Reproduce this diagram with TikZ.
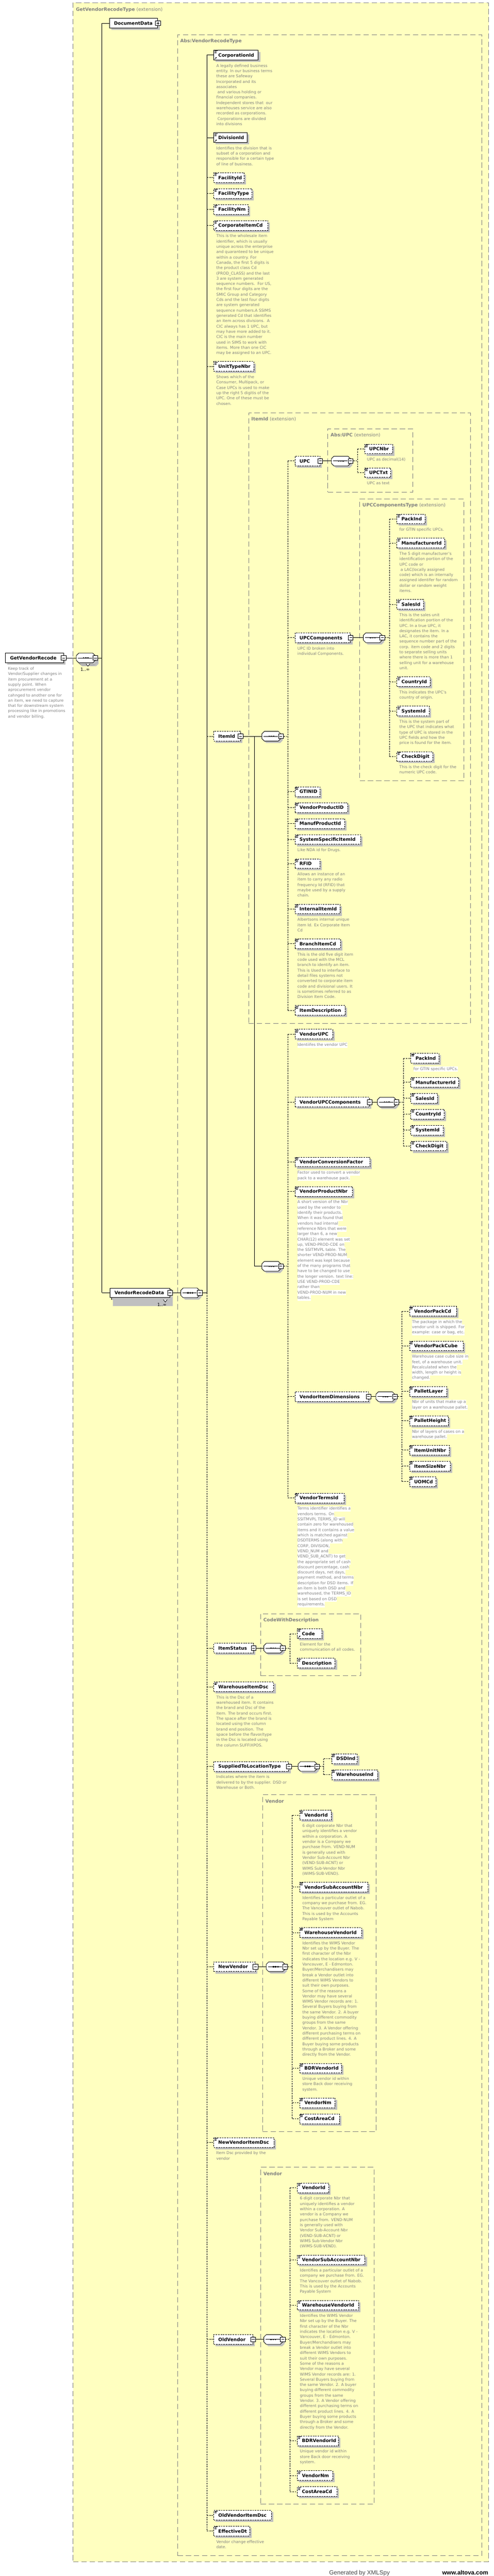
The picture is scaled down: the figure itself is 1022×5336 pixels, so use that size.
\documentclass[tikz,border=0pt]{standalone}
\usepackage{fontspec}
\setmainfont{DejaVu Sans}
\newfontfamily\ftrfont{Liberation Sans}
\usetikzlibrary{shadows,arrows.meta}
\definecolor{bgY}{RGB}{255,255,192}
\definecolor{tbx}{RGB}{128,128,128}
\definecolor{dsc}{RGB}{128,128,128}
\definecolor{shc}{RGB}{192,192,192}
\definecolor{ftrc}{RGB}{70,70,70}
\pgfdeclarelayer{bg}\pgfdeclarelayer{ln}\pgfsetlayers{bg,ln,main}
\newcommand\elfont{\fontsize{9.5}{11}\selectfont\bfseries}
\newcommand\dscfont{\fontsize{8.1}{11}\selectfont}
\newcommand\wl[1]{{\setlength{\fboxsep}{0pt}\colorbox{white}{\strut#1}}}
\tikzset{
  ln/.style={line width=0.9pt},
  opt/.style={dash pattern=on 3pt off 2pt},
  elem/.style={draw, fill=white, line width=0.9pt, inner sep=0pt, minimum height=20pt,
    text height=6.9pt, text depth=0pt, anchor=west, font=\elfont, text=black,
    drop shadow={shadow xshift=4pt, shadow yshift=-4pt, fill=shc, opacity=1}},
  tbox/.style={draw=tbx, fill=bgY, line width=0.8pt, dash pattern=on 11pt off 6pt, anchor=north west, inner sep=0pt},
  ttl/.style={anchor=base west, inner sep=0pt, font=\fontsize{9.6}{11}\selectfont, text=tbx},
  desc/.style={anchor=north west, inner sep=0pt, align=left, font=\dscfont, text=dsc},
  cmp/.style={anchor=west, minimum width=39pt, minimum height=20pt, inner sep=0pt, draw=none},
  signm/.style={draw, fill=white, line width=0.9pt, minimum size=10pt, inner sep=0pt,
    path picture={\draw[line width=0.9pt] ([xshift=2.2pt]path picture bounding box.west) -- ([xshift=-2.2pt]path picture bounding box.east);}},
  signp/.style={draw, fill=white, line width=0.9pt, minimum size=10pt, inner sep=0pt,
    path picture={\draw[line width=0.9pt] ([xshift=2.2pt]path picture bounding box.west) -- ([xshift=-2.2pt]path picture bounding box.east) ([yshift=-2.2pt]path picture bounding box.north) -- ([yshift=2.2pt]path picture bounding box.south);}},
  mult/.style={font=\fontsize{9}{10}\selectfont, inner sep=0pt, text=black},
}
% element: [style]{name}{x1}{x2}{y}{label}
\newcommand\El[6][]{\node[elem,#1,minimum width={#4-#3}] (#2) at (#3,#5) {\makebox[\dimexpr#4pt-#3pt\relax][l]{\hspace*{9.5pt}#6}};}
\newcommand\Sg[1]{\node[signm] (#1-s) at (#1.east) {};}
\newcommand\Sp[1]{\node[signp] (#1-s) at (#1.east) {};}
\newcommand\icL[1]{\draw[line width=0.8pt] ([xshift=1.5pt,yshift=-1.8pt]#1.north west) -- ++(6.5,0) ([xshift=1.5pt,yshift=-3.9pt]#1.north west) -- ++(5,0) ([xshift=1.5pt,yshift=-6pt]#1.north west) -- ++(5,0);}
\newcommand\icA[1]{\draw[line width=0.8pt,-{Stealth[length=2.6pt,width=3pt]}] ([xshift=2pt,yshift=1.6pt]#1.south west) -- ++(4.6,-4.6);}
\newcommand\Ds[3]{\node[desc] (#1) at ([xshift=5.5pt,yshift=-6.5pt]#2.south west) {\strut#3};}
\newcommand\oct[3]{\path[#3] ({#1},{#2-5}) -- ({#1+5},{#2-10}) -- ({#1+34},{#2-10}) -- ({#1+39},{#2-5}) -- ({#1+39},{#2+5}) -- ({#1+34},{#2+10}) -- ({#1+5},{#2+10}) -- ({#1},{#2+5}) -- cycle;}
\newcommand\Comp[3]{%
  \oct{#2+4}{#3+4}{fill=shc}
  \oct{#2}{#3}{draw,fill=white,line width=0.9pt}
  \node[cmp] (#1) at (#2,#3) {};
  \draw[line width=0.9pt] ({#2+3.5},#3) -- ({#2+33},#3);
  \foreach \dx in {15,19.5,24} {\fill ({#2+\dx-1.3},{#3-1.3}) rectangle ++(2.6,2.6);}
  \node[signm] (#1-s) at (#1.east) {};}
\newcommand\CompM[3]{%
  \oct{#2+7}{#3+7}{fill=shc}
  \oct{#2+3.5}{#3+3.5}{draw,fill=white,line width=0.9pt}
  \Comp{#1}{#2}{#3}}

\begin{document}
\begin{tikzpicture}[x=1pt,y=-1pt]
\useasboundingbox (0,0) rectangle (1022,5336);

%================ type boxes
\begin{pgfonlayer}{bg}
\node[tbox, minimum width=860pt, minimum height=5301pt] (B0) at (151,5) {};
\node[tbox, minimum width=630pt, minimum height=5222pt] (B1) at (367,71) {};
\node[tbox, minimum width=459pt, minimum height=1264pt] (B2) at (514,855) {};
\node[tbox, minimum width=176pt, minimum height=131pt] (B3) at (678,888) {};
\node[tbox, minimum width=215pt, minimum height=584pt] (B4) at (744,1033) {};
\node[tbox, minimum width=207pt, minimum height=129pt] (B5) at (539,3342) {};
\node[tbox, minimum width=235pt, minimum height=698pt] (B6) at (543,3717) {};
\node[tbox, minimum width=235pt, minimum height=698pt] (B7) at (539,4489) {};
\end{pgfonlayer}
\node[ttl] (T0) at (157,22.5) {\textbf{GetVendorRecodeType} (extension)};
\node[ttl] (T1) at (373,88.5) {\textbf{Abs:VendorRecodeType}};
\node[ttl] (T2) at (520,871.5) {\textbf{ItemId} (extension)};
\node[ttl] (T3) at (684,904.5) {\textbf{Abs:UPC} (extension)};
\node[ttl] (T4) at (750,1049.5) {\textbf{UPCComponentsType} (extension)};
\node[ttl] (T5) at (545,3358.5) {\textbf{CodeWithDescription}};
\node[ttl] (T6) at (549,3734.5) {\textbf{Vendor}};
\node[ttl] (T7) at (545,4506.5) {\textbf{Vendor}};

%================ root
\El{GetVendorRecode}{11}{131}{1363}{GetVendorRecode}\Sg{GetVendorRecode}
\Ds{dRoot}{GetVendorRecode}{Keep track of\\Vendor/Supplier changes in\\item procurement at a\\supply point. When\\aprocurement vendor\\cahnged to another one for\\an item, we need to capture\\that for downstream system\\processing like in promotions\\and vendor billing.}
\CompM{c0}{158}{1363}
\draw[line width=0.8pt,fill=white] (178,1375) -- (182,1380) -- (186,1375);
\node[mult] (m0) at (176,1387) {1..∞};
\El{DocumentData}{226}{326}{48}{DocumentData}\Sp{DocumentData}
\fill[shc] (234,2685) rectangle (358,2705);
\draw[line width=0.9pt,fill=white] (230.5,2671.5) rectangle (354.5,2691.5);
\El{VendorRecodeData}{227}{351}{2678}{VendorRecodeData}\Sg{VendorRecodeData}
\draw[line width=0.8pt,fill=white] (338,2692) -- (342,2697) -- (346,2692);
\node[mult] (m1) at (335,2703) {1..∞};
\Comp{c1}{374}{2678}

%================ VendorRecodeType children
\El{CorporationId}{442}{534}{114}{CorporationId}\icL{CorporationId}\icA{CorporationId}
\Ds{dCorp}{CorporationId}{A legally defined business\\entity. In our business terms\\these are Safeway\\Incorporated and its\\associates\\\hspace*{2.5pt}and various holding or\\financial companies.\\Independent stores that\ \ our\\warehouses service are also\\recorded as corporations.\\\hspace*{2.5pt}Corporations are divided\\into divisions}
\El{DivisionId}{442}{511}{285}{DivisionId}\icL{DivisionId}\icA{DivisionId}
\Ds{dDiv}{DivisionId}{Identifies the division that is\\subset of a corporation and\\responsible for a certain type\\of line of business.}
\El[opt]{FacilityId}{442}{505}{368}{FacilityId}\icL{FacilityId}
\El[opt]{FacilityType}{442}{521}{401}{FacilityType}\icL{FacilityType}
\El[opt]{FacilityNm}{442}{513}{434}{FacilityNm}\icL{FacilityNm}
\El[opt]{CorporateItemCd}{442}{554}{467}{CorporateItemCd}\icL{CorporateItemCd}\icA{CorporateItemCd}
\Ds{dCic}{CorporateItemCd}{This is the wholesale item\\identifier, which is usually\\unique across the enterprise\\and quaranteed to be unique\\within a country. For\\Canada, the first 5 digits is\\the product class Cd\\(PROD\_CLASS) and the last\\3 are system generated\\sequence numbers.\ \ For US,\\the first four digits are the\\SMIC Group and Category\\Cds and the last four digits\\are system generated\\sequence numbers.A SSIMS\\generated Cd that identifies\\an item across divisions.\ \ A\\CIC always has 1 UPC, but\\may have more added to it.\\CIC is the main number\\used in SIMS to work with\\items. More than one CIC\\may be assigned to an UPC.}
\El[opt]{UnitTypeNbr}{442}{525}{759}{UnitTypeNbr}\icL{UnitTypeNbr}
\Ds{dUnit}{UnitTypeNbr}{Shows which of the\\Consumer, Multipack, or\\Case UPCs is used to make\\up the right 5 digitis of the\\UPC. One of these must be\\chosen.}
\El[opt]{ItemId}{442}{497}{1525}{ItemId}\Sg{ItemId}
\Comp{c2}{542}{1525}
\Comp{c3}{542}{2623}

%================ ItemId base content
\El[opt]{UPC}{610}{662}{955}{UPC}\Sg{UPC}
\Comp{cu}{686}{955}
\El[opt]{UPCNbr}{754}{812}{930}{UPCNbr}\icL{UPCNbr}
\Ds{dUpcNbr}{UPCNbr}{UPC as decimal(14)}
\El[opt]{UPCTxt}{754}{808}{979}{UPCTxt}\icL{UPCTxt}
\Ds{dUpcTxt}{UPCTxt}{UPC as text}
\El[opt]{UPCComponents}{610}{725}{1321}{UPCComponents}\Sg{UPCComponents}
\Ds{dUpcc}{UPCComponents}{UPC ID broken into\\individual Components.}
\Comp{cuc}{752}{1321}
\El[opt]{PackInd}{821}{879}{1075}{PackInd}\icL{PackInd}
\Ds{dPack}{PackInd}{for GTIN specific UPCs.}
\El[opt]{ManufacturerId}{821}{920}{1125}{ManufacturerId}\icL{ManufacturerId}
\Ds{dManu}{ManufacturerId}{The 5 digit manufacturer's\\identification portion of the\\UPC code or\\\hspace*{2.5pt}a LAC(locally assigned\\code) which is an internally\\assigned identifer for random\\dollar or random weight\\items.}
\El[opt]{SalesId}{821}{876}{1252}{SalesId}\icL{SalesId}
\Ds{dSales}{SalesId}{This is the sales unit\\identification portion of the\\UPC. In a true UPC, it\\designates the item. In a\\LAC, it contains the\\sequence number part of the\\corp. item code and 2 digits\\to separate selling units\\where there is more than 1\\selling unit for a warehouse\\unit.}
\El[opt]{CountryId}{821}{890}{1412}{CountryId}\icL{CountryId}
\Ds{dCountry}{CountryId}{This indicates the UPC's\\country of origin.}
\El[opt]{SystemId}{821}{888}{1473}{SystemId}\icL{SystemId}
\Ds{dSystem}{SystemId}{This is the system part of\\the UPC that indicates what\\type of UPC is stored in the\\UPC fields and how the\\price is found for the item.}
\El[opt]{CheckDigit}{821}{895}{1567}{CheckDigit}\icL{CheckDigit}
\Ds{dCheck}{CheckDigit}{This is the check digit for the\\numeric UPC code.}
\El[opt]{GTINID}{610}{662}{1640}{GTINID}\icL{GTINID}
\El[opt]{VendorProductID}{610}{719}{1673}{VendorProductID}\icL{VendorProductID}
\El[opt]{ManufProductId}{610}{713}{1706}{ManufProductId}\icL{ManufProductId}
\El[opt]{SystemSpecificItemId}{610}{746}{1739}{SystemSpecificItemId}\icL{SystemSpecificItemId}
\Ds{dSsid}{SystemSpecificItemId}{Like NDA id for Drugs.}
\El[opt]{RFID}{610}{662}{1789}{RFID}\icL{RFID}
\Ds{dRfid}{RFID}{Allows an instance of an\\item to carry any radio\\frequency Id (RFID) that\\maybe used by a supply\\chain.}
\El[opt]{InternalItemId}{610}{703}{1883}{InternalItemId}\icL{InternalItemId}
\Ds{dIid}{InternalItemId}{Albertsons internal unique\\item Id. Ex Corporate Item\\Cd}
\El[opt]{BranchItemCd}{610}{704}{1955}{BranchItemCd}\icL{BranchItemCd}
\Ds{dBic}{BranchItemCd}{This is the old five digit item\\code used with the MCL\\branch to identify an item.\\This is Used to interface to\\detail files systems not\\converted to corporate item\\code and divisional users. It\\is sometimes referred to as\\Division Item Code.}
\El[opt]{ItemDescription}{610}{714}{2093}{ItemDescription}\icL{ItemDescription}

%================ ItemId extension content
\El[opt]{VendorUPC}{610}{688}{2142}{VendorUPC}\icL{VendorUPC}
\Ds{dVupc}{VendorUPC}{\wl{Identiifes the vendor UPC}}
\El[opt]{VendorUPCComponents}{610}{764}{2283}{VendorUPCComponents}\Sg{VendorUPCComponents}
\Comp{cvuc}{781}{2283}
\El[opt]{PackIndB}{850}{908}{2192}{PackInd}\icL{PackIndB}
\Ds{dPackB}{PackIndB}{\wl{for GTIN specific UPCs.}}
\El[opt]{ManufacturerIdB}{850}{949}{2242}{ManufacturerId}\icL{ManufacturerIdB}
\El[opt]{SalesIdB}{850}{905}{2275}{SalesId}\icL{SalesIdB}
\El[opt]{CountryIdB}{850}{919}{2308}{CountryId}\icL{CountryIdB}
\El[opt]{SystemIdB}{850}{917}{2341}{SystemId}\icL{SystemIdB}
\El[opt]{CheckDigitB}{850}{924}{2374}{CheckDigit}\icL{CheckDigitB}
\El[opt]{VendorConversionFactor}{610}{765}{2407}{VendorConversionFactor}\icL{VendorConversionFactor}
\Ds{dVcf}{VendorConversionFactor}{\wl{Factor used to convert a vendor}\\\wl{pack to a warehouse pack.}}
\El[opt]{VendorProductNbr}{610}{729}{2468}{VendorProductNbr}\icL{VendorProductNbr}
\Ds{dVpn}{VendorProductNbr}{\wl{A short version of the Nbr}\\\wl{used by the vendor to}\\\wl{identify their products.}\\\wl{When it was found that}\\\wl{vendors had internal}\\\wl{reference Nbrs that were}\\\wl{larger than 6, a new}\\\wl{CHAR(12) element was set}\\\wl{up, VEND-PROD-CDE on}\\\wl{the SSITMVPL table. The}\\\wl{shorter VEND-PROD-NUM}\\\wl{element was kept because}\\\wl{of the many programs that}\\\wl{have to be changed to use}\\\wl{the longer version. text line:}\\\wl{USE VEND-PROD-CDE}\\\wl{rather than}\\\wl{VEND-PROD-NUM in new}\\\wl{tables.}}
\El[opt]{VendorItemDimensions}{610}{762}{2893}{VendorItemDimensions}\Sg{VendorItemDimensions}
\Comp{cvid}{778}{2893}
\El[opt]{VendorPackCd}{847}{944}{2716}{VendorPackCd}\icL{VendorPackCd}
\Ds{dVpc}{VendorPackCd}{\wl{The package in which the}\\\wl{vendor unit is shipped. For}\\\wl{example: case or bag, etc.}}
\El[opt]{VendorPackCube}{847}{958}{2788}{VendorPackCube}\icL{VendorPackCube}
\Ds{dVpcube}{VendorPackCube}{\wl{Warehouse case cube size in}\\\wl{feet, of a warehouse unit.}\\\wl{Recalculated when the}\\\wl{width, length or height is}\\\wl{changed.}}
\El[opt]{PalletLayer}{847}{924}{2882}{PalletLayer}\icL{PalletLayer}
\Ds{dPl}{PalletLayer}{\wl{Nbr of units that make up a}\\\wl{layer on a warehouse pallet.}}
\El[opt]{PalletHeight}{847}{927}{2943}{PalletHeight}\icL{PalletHeight}
\Ds{dPh}{PalletHeight}{\wl{Nbr of layers of cases on a}\\\wl{warehouse pallet.}}
\El[opt]{ItemUnitNbr}{847}{929}{3004}{ItemUnitNbr}\icL{ItemUnitNbr}
\El[opt]{ItemSizeNbr}{847}{932}{3037}{ItemSizeNbr}\icL{ItemSizeNbr}
\El[opt]{UOMCd}{847}{902}{3069}{UOMCd}\icL{UOMCd}
\El[opt]{VendorTermsId}{610}{712}{3103}{VendorTermsId}\icL{VendorTermsId}
\Ds{dVti}{VendorTermsId}{\wl{Terms identifier identifies a}\\\wl{vendors terms. On}\\\wl{SSITMVPL TERMS\_ID will}\\\wl{contain zero for warehoused}\\\wl{items and it contains a value}\\\wl{which is matched against}\\\wl{DSDTERMS (along with}\\\wl{CORP, DIVISION,}\\\wl{VEND\_NUM and}\\\wl{VEND\_SUB\_ACNT) to get}\\\wl{the appropriate set of cash}\\\wl{discount percentage, cash}\\\wl{discount days, net days,}\\\wl{payment method, and terms}\\\wl{description for DSD items. If}\\\wl{an item is both DSD and}\\\wl{warehoused, the TERMS\_ID}\\\wl{is set based on DSD}\\\wl{requirements.}}

%================ rest of VendorRecodeType
\El[opt]{ItemStatus}{442}{524}{3414}{ItemStatus}\Sg{ItemStatus}
\Comp{cis}{546}{3414}
\El[opt]{Code}{615}{666}{3384}{Code}\icL{Code}\icA{Code}
\Ds{dCode}{Code}{Element for the\\communication of all codes.}
\El[opt]{Description}{615}{693}{3445}{Description}\icL{Description}
\El[opt]{WarehouseItemDsc}{442}{566}{3494}{WarehouseItemDsc}\icL{WarehouseItemDsc}
\Ds{dWid}{WarehouseItemDsc}{This is the Dsc of a\\warehoused item. It contains\\the brand and Dsc of the\\item. The brand occurs first.\\The space after the brand is\\located using the column\\brand end position. The\\space before the flavor/type\\in the Dsc is located using\\the column SUFFIXPOS.}
\El[opt]{SuppliedToLocationType}{442}{597}{3659}{SuppliedToLocationType}\Sg{SuppliedToLocationType}
\Ds{dStl}{SuppliedToLocationType}{Indicates where the item is\\delivered to by the supplier. DSD or\\Warehouse or Both.}
\Comp{cst}{617}{3659}
\El[opt]{DSDInd}{686}{739}{3643}{DSDInd}\icL{DSDInd}
\El[opt]{WarehouseInd}{686}{781}{3676}{WarehouseInd}\icL{WarehouseInd}

\El[opt]{NewVendor}{442}{528}{4074}{NewVendor}\Sg{NewVendor}
\Comp{cnv}{551}{4074}
\El[opt]{VendorIdA}{620}{685}{3760}{VendorId}\icL{VendorIdA}
\Ds{dVidA}{VendorIdA}{6 digit corporate Nbr that\\uniquely identifies a vendor\\within a corporation. A\\vendor is a Company we\\purchase from. VEND-NUM\\is generally used with\\Vendor Sub-Account Nbr\\(VEND-SUB-ACNT) or\\WIMS Sub-Vendor Nbr\\(WIMS-SUB-VEND).}
\El[opt]{VendorSubAccountNbrA}{620}{761}{3909}{VendorSubAccountNbr}\icL{VendorSubAccountNbrA}
\Ds{dVsanA}{VendorSubAccountNbrA}{Identifies a particular outlet of a\\company we purchase from. EG.\\The Vancouver outlet of Nabob.\\This is used by the Accounts\\Payable System}
\El[opt]{WarehouseVendorIdA}{620}{748}{4003}{WarehouseVendorId}\icL{WarehouseVendorIdA}
\Ds{dWviA}{WarehouseVendorIdA}{Identifies the WIMS Vendor\\Nbr set up by the Buyer. The\\first character of the Nbr\\indicates the location e.g. V -\\Vancouver, E - Edmonton.\\Buyer/Merchandisers may\\break a Vendor outlet into\\different WIMS Vendors to\\suit their own purposes.\\Some of the reasons a\\Vendor may have several\\WIMS Vendor records are: 1.\\Several Buyers buying from\\the same Vendor. 2. A buyer\\buying different commodity\\groups from the same\\Vendor. 3. A Vendor offering\\different purchasing terms on\\different product lines. 4. A\\Buyer buying some products\\through a Broker and some\\directly from the Vendor.}
\El[opt]{BDRVendorIdA}{620}{706}{4284}{BDRVendorId}\icL{BDRVendorIdA}
\Ds{dBdrA}{BDRVendorIdA}{Unique vendor id within\\store Back door receiving\\system.}
\El[opt]{VendorNmA}{620}{693}{4356}{VendorNm}\icL{VendorNmA}
\El[opt]{CostAreaCdA}{620}{702}{4389}{CostAreaCd}\icL{CostAreaCdA}
\El[opt]{NewVendorItemDsc}{442}{567}{4438}{NewVendorItemDsc}\icL{NewVendorItemDsc}
\Ds{dNvid}{NewVendorItemDsc}{Item Dsc provided by the\\vendor}

\El[opt]{OldVendor}{442}{523}{4846}{OldVendor}\Sg{OldVendor}
\Comp{cov}{546}{4846}
\El[opt]{VendorIdB}{615}{680}{4532}{VendorId}\icL{VendorIdB}
\Ds{dVidB}{VendorIdB}{6 digit corporate Nbr that\\uniquely identifies a vendor\\within a corporation. A\\vendor is a Company we\\purchase from. VEND-NUM\\is generally used with\\Vendor Sub-Account Nbr\\(VEND-SUB-ACNT) or\\WIMS Sub-Vendor Nbr\\(WIMS-SUB-VEND).}
\El[opt]{VendorSubAccountNbrB}{615}{755}{4681}{VendorSubAccountNbr}\icL{VendorSubAccountNbrB}
\Ds{dVsanB}{VendorSubAccountNbrB}{Identifies a particular outlet of a\\company we purchase from. EG.\\The Vancouver outlet of Nabob.\\This is used by the Accounts\\Payable System}
\El[opt]{WarehouseVendorIdB}{615}{742}{4775}{WarehouseVendorId}\icL{WarehouseVendorIdB}
\Ds{dWviB}{WarehouseVendorIdB}{Identifies the WIMS Vendor\\Nbr set up by the Buyer. The\\first character of the Nbr\\indicates the location e.g. V -\\Vancouver, E - Edmonton.\\Buyer/Merchandisers may\\break a Vendor outlet into\\different WIMS Vendors to\\suit their own purposes.\\Some of the reasons a\\Vendor may have several\\WIMS Vendor records are: 1.\\Several Buyers buying from\\the same Vendor. 2. A buyer\\buying different commodity\\groups from the same\\Vendor. 3. A Vendor offering\\different purchasing terms on\\different product lines. 4. A\\Buyer buying some products\\through a Broker and some\\directly from the Vendor.}
\El[opt]{BDRVendorIdB}{615}{700}{5056}{BDRVendorId}\icL{BDRVendorIdB}
\Ds{dBdrB}{BDRVendorIdB}{Unique vendor id within\\store Back door receiving\\system.}
\El[opt]{VendorNmB}{615}{688}{5128}{VendorNm}\icL{VendorNmB}
\El[opt]{CostAreaCdB}{615}{697}{5161}{CostAreaCd}\icL{CostAreaCdB}
\El[opt]{OldVendorItemDsc}{442}{561}{5210}{OldVendorItemDsc}\icL{OldVendorItemDsc}
\El[opt]{EffectiveDt}{442}{516}{5243}{EffectiveDt}\icL{EffectiveDt}
\Ds{dEff}{EffectiveDt}{Vendor change effective\\date.}

%================ footer
\node[anchor=base west, inner sep=0pt, font=\ftrfont\fontsize{12.4}{14}\selectfont, text=ftrc] (F1) at (681,5333.5) {Generated by XMLSpy};
\node[anchor=base west, inner sep=0pt, font=\ftrfont\fontsize{12.2}{14}\selectfont\bfseries, text=black] (F2) at (915,5333.5) {www.altova.com};

%================ connectors
\begin{pgfonlayer}{ln}
\draw[ln] (GetVendorRecode-s.east) -- (c0.west);
\coordinate (v0) at (211,1363);
\draw[ln] (c0-s.east) -- (v0);
\draw[ln] (v0 |- DocumentData.west) -- (v0 |- VendorRecodeData.west);
\draw[ln] (v0 |- DocumentData.west) -- (DocumentData.west);
\draw[ln] (v0 |- VendorRecodeData.west) -- (VendorRecodeData.west);

\draw[ln] (VendorRecodeData-s.east) -- (c1.west);
\coordinate (v1) at (428,2678);
\draw[ln] (c1-s.east) -- (v1);
\draw[ln] (v1) -- (v1 |- CorporationId.west);
\draw[ln,opt] (v1) -- (v1 |- EffectiveDt.west);
\foreach \n in {CorporationId,DivisionId} {\draw[ln] (v1 |- \n.west) -- (\n.west);}
\foreach \n in {FacilityId,FacilityType,FacilityNm,CorporateItemCd,UnitTypeNbr,ItemId,ItemStatus,WarehouseItemDsc,SuppliedToLocationType,NewVendor,NewVendorItemDsc,OldVendor,OldVendorItemDsc,EffectiveDt} {\draw[ln,opt] (v1 |- \n.west) -- (\n.west);}

\draw[ln] (ItemId-s.east) -- (c2.west);
\coordinate (b1) at (527,1525);
\draw[ln] (b1) |- (c3.west);
\coordinate (v2) at (596,1525);
\draw[ln,opt] (c2-s.east) -- (v2);
\draw[ln,opt] (v2 |- UPC.west) -- (v2 |- ItemDescription.west);
\foreach \n in {UPC,UPCComponents,GTINID,VendorProductID,ManufProductId,SystemSpecificItemId,RFID,InternalItemId,BranchItemCd,ItemDescription} {\draw[ln,opt] (v2 |- \n.west) -- (\n.west);}
\coordinate (v3) at (596,2623);
\draw[ln,opt] (c3-s.east) -- (v3);
\draw[ln,opt] (v3 |- VendorUPC.west) -- (v3 |- VendorTermsId.west);
\foreach \n in {VendorUPC,VendorUPCComponents,VendorConversionFactor,VendorProductNbr,VendorItemDimensions,VendorTermsId} {\draw[ln,opt] (v3 |- \n.west) -- (\n.west);}

\draw[ln] (UPC-s.east) -- (cu.west);
\coordinate (vu) at (740,955);
\draw[ln,opt] (cu-s.east) -- (vu);
\draw[ln,opt] (vu |- UPCNbr.west) -- (vu |- UPCTxt.west);
\foreach \n in {UPCNbr,UPCTxt} {\draw[ln,opt] (vu |- \n.west) -- (\n.west);}

\draw[ln] (UPCComponents-s.east) -- (cuc.west);
\coordinate (vuc) at (806,1321);
\draw[ln,opt] (cuc-s.east) -- (vuc);
\draw[ln,opt] (vuc |- PackInd.west) -- (vuc |- CheckDigit.west);
\foreach \n in {PackInd,ManufacturerId,SalesId,CountryId,SystemId,CheckDigit} {\draw[ln,opt] (vuc |- \n.west) -- (\n.west);}

\draw[ln] (VendorUPCComponents-s.east) -- (cvuc.west);
\coordinate (vvuc) at (835,2283);
\draw[ln,opt] (cvuc-s.east) -- (vvuc);
\draw[ln,opt] (vvuc |- PackIndB.west) -- (vvuc |- CheckDigitB.west);
\foreach \n in {PackIndB,ManufacturerIdB,SalesIdB,CountryIdB,SystemIdB,CheckDigitB} {\draw[ln,opt] (vvuc |- \n.west) -- (\n.west);}

\draw[ln] (VendorItemDimensions-s.east) -- (cvid.west);
\coordinate (vvid) at (832,2893);
\draw[ln,opt] (cvid-s.east) -- (vvid);
\draw[ln,opt] (vvid |- VendorPackCd.west) -- (vvid |- UOMCd.west);
\foreach \n in {VendorPackCd,VendorPackCube,PalletLayer,PalletHeight,ItemUnitNbr,ItemSizeNbr,UOMCd} {\draw[ln,opt] (vvid |- \n.west) -- (\n.west);}

\draw[ln] (ItemStatus-s.east) -- (cis.west);
\coordinate (vis) at (600,3414);
\draw[ln,opt] (cis-s.east) -- (vis);
\draw[ln,opt] (vis |- Code.west) -- (vis |- Description.west);
\foreach \n in {Code,Description} {\draw[ln,opt] (vis |- \n.west) -- (\n.west);}

\draw[ln] (SuppliedToLocationType-s.east) -- (cst.west);
\coordinate (vst) at (670,3659);
\draw[ln,opt] (cst-s.east) -- (vst);
\draw[ln,opt] (vst |- DSDInd.west) -- (vst |- WarehouseInd.west);
\foreach \n in {DSDInd,WarehouseInd} {\draw[ln,opt] (vst |- \n.west) -- (\n.west);}

\draw[ln] (NewVendor-s.east) -- (cnv.west);
\coordinate (vnv) at (605,4074);
\draw[ln,opt] (cnv-s.east) -- (vnv);
\draw[ln,opt] (vnv |- VendorIdA.west) -- (vnv |- CostAreaCdA.west);
\foreach \n in {VendorIdA,VendorSubAccountNbrA,WarehouseVendorIdA,BDRVendorIdA,VendorNmA,CostAreaCdA} {\draw[ln,opt] (vnv |- \n.west) -- (\n.west);}

\draw[ln] (OldVendor-s.east) -- (cov.west);
\coordinate (vov) at (600,4846);
\draw[ln,opt] (cov-s.east) -- (vov);
\draw[ln,opt] (vov |- VendorIdB.west) -- (vov |- CostAreaCdB.west);
\foreach \n in {VendorIdB,VendorSubAccountNbrB,WarehouseVendorIdB,BDRVendorIdB,VendorNmB,CostAreaCdB} {\draw[ln,opt] (vov |- \n.west) -- (\n.west);}
\end{pgfonlayer}
\end{tikzpicture}
\end{document}
